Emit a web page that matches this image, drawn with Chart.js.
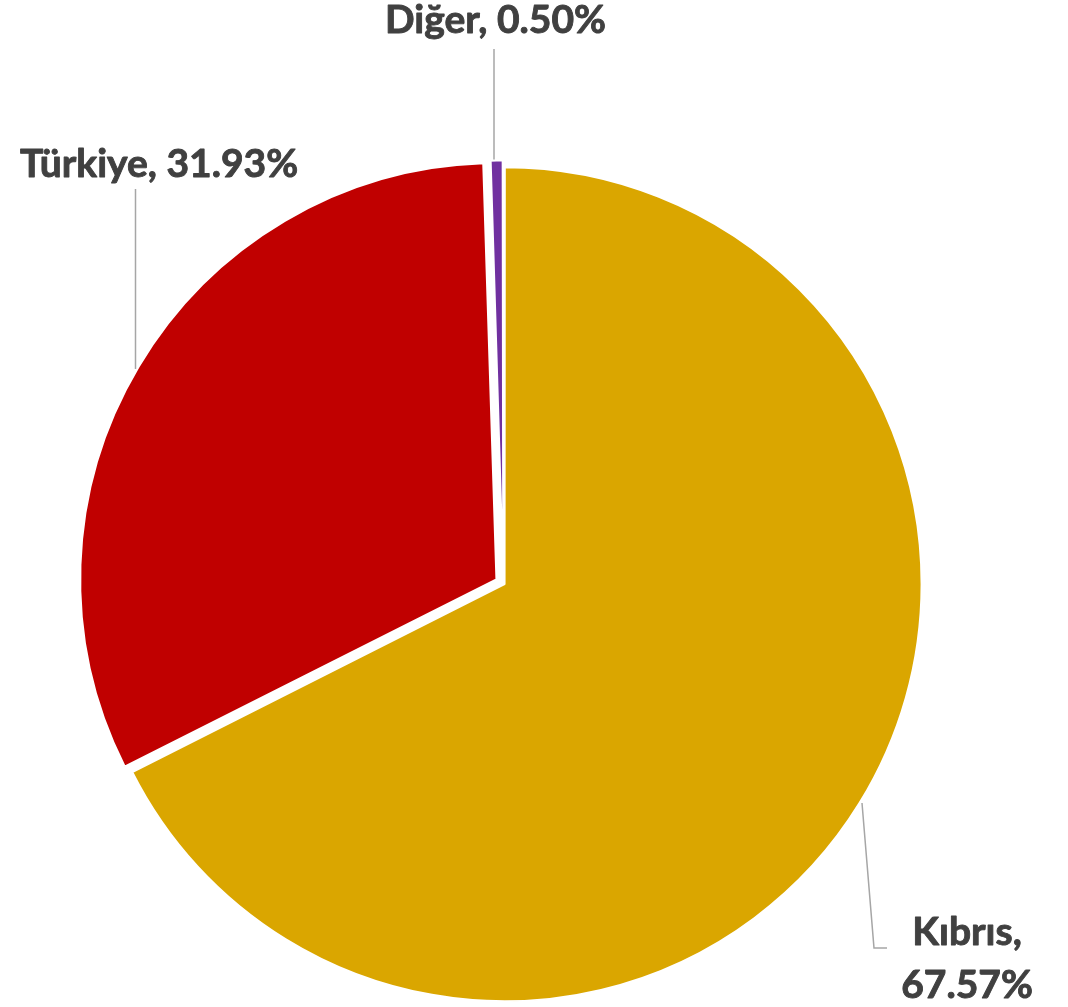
<!DOCTYPE html>
<html><head><meta charset="utf-8">
<script src="https://cdn.jsdelivr.net/npm/chart.js@4/dist/chart.umd.min.js"></script>
<style>html,body{margin:0;padding:0;background:#fff}#wrap{width:1068px;height:1007px;position:relative}</style>
</head><body><div id="wrap"><canvas id="c"></canvas></div>
<script>
const categories = ['Kıbrıs', 'Türkiye', 'Diğer'];
const shares = [67.57, 31.93, 0.50];
const sliceColors = ['#DAA600', '#C00000', '#7030A0'];
const sliceOffsets = [6, 32, 15];

const FONT = 'bold 39px Lato, "Open Sans", sans-serif';
const TEXT_COLOR = '#404040';
const LEADER_COLOR = '#A6A6A6';

// label layout (pixel positions of annotation text and leader lines)
const labelLayout = [
  { index: 0, lines: [categories[0] + ',', shares[0].toFixed(2) + '%'], x: 967, baselines: [945, 998], align: 'center',
    leader: { type: 'elbow', arcX: 862, side: 'bottom', gap: 4, bendX: 874, bendY: 948, endX: 887 } },
  { index: 1, lines: [categories[1] + ', ' + shares[1].toFixed(2) + '%'], x: 20, baselines: [177], align: 'left',
    leader: { type: 'vertical', x: 135.5, topY: 189, side: 'top', gap: 3 } },
  { index: 2, lines: [categories[2] + ', ' + shares[2].toFixed(2) + '%'], x: 495.5, baselines: [33], align: 'center',
    leader: { type: 'vertical', x: 494, topY: 49, side: 'top', gap: 1 } }
];

function arcGeom(el) {
  const o = (el.options.offset || 0) / 4;
  const half = (el.startAngle + el.endAngle) / 2;
  const circ = el.endAngle - el.startAngle;
  return {
    cx: el.x + Math.cos(half) * o,
    cy: el.y + Math.sin(half) * o,
    r: el.outerRadius + o * (1 - Math.sin(Math.min(Math.PI, circ)))
  };
}
function yOnArc(g, x, side) {
  const dx = x - g.cx;
  const h = Math.sqrt(Math.max(g.r * g.r - dx * dx, 0));
  return side === 'top' ? g.cy - h : g.cy + h;
}

const labelPlugin = {
  id: 'pieLabels',
  afterDatasetsDraw(chart) {
    const ctx = chart.ctx;
    const meta = chart.getDatasetMeta(0);
    ctx.save();
    ctx.strokeStyle = LEADER_COLOR;
    ctx.lineWidth = 1.5;
    labelLayout.forEach(l => {
      const g = arcGeom(meta.data[l.index]);
      const ld = l.leader;
      ctx.beginPath();
      if (ld.type === 'vertical') {
        const y = yOnArc(g, ld.x, ld.side) - ld.gap;
        ctx.moveTo(ld.x, ld.topY);
        ctx.lineTo(ld.x, y);
      } else {
        const y = yOnArc(g, ld.arcX, ld.side) + ld.gap;
        ctx.moveTo(ld.arcX, y);
        ctx.lineTo(ld.bendX, ld.bendY);
        ctx.lineTo(ld.endX, ld.bendY);
      }
      ctx.stroke();
    });
    ctx.fillStyle = TEXT_COLOR;
    ctx.strokeStyle = TEXT_COLOR;
    ctx.lineWidth = 0.9;
    ctx.lineJoin = 'round';
    ctx.font = FONT;
    ctx.textBaseline = 'alphabetic';
    labelLayout.forEach(l => {
      ctx.textAlign = l.align;
      l.lines.forEach((t, k) => {
        ctx.fillText(t, l.x, l.baselines[k]);
        ctx.strokeText(t, l.x, l.baselines[k]);
      });
    });
    ctx.restore();
  }
};

new Chart(document.getElementById('c'), {
  type: 'pie',
  data: {
    labels: categories,
    datasets: [{
      data: shares,
      backgroundColor: sliceColors,
      borderColor: '#FFFFFF',
      borderWidth: 2,
      offset: sliceOffsets,
      radius: 415.5
    }]
  },
  options: {
    responsive: true,
    maintainAspectRatio: false,
    animation: false,
    radius: 415.5,
    layout: { padding: { left: 0, right: 61.4, top: 159.8, bottom: 0 } },
    plugins: { legend: { display: false }, tooltip: { enabled: false } }
  },
  plugins: [labelPlugin]
});
</script></body></html>
